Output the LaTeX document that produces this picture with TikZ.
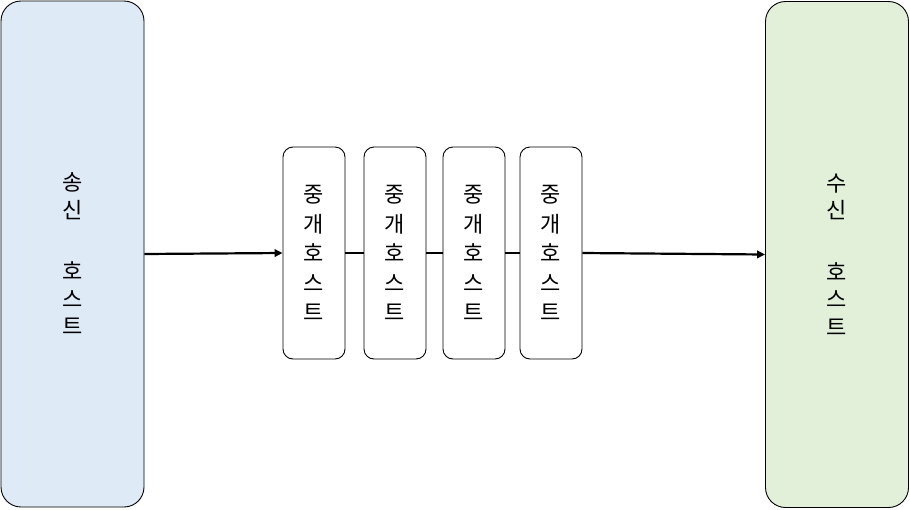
\documentclass[tikz,border=0pt]{standalone}
\usepackage{fontspec}
\newfontfamily\kr{Noto Sans CJK KR}
\usetikzlibrary{arrows.meta}
\definecolor{sendfill}{HTML}{DEEAF6}
\definecolor{recvfill}{HTML}{E2EFD9}
\tikzset{
  x=1pt,y=-1pt,
  hostbox/.style={draw=black,line width=0.9pt,rounded corners=20pt,inner sep=0pt,
    minimum width=143pt,minimum height=506pt,align=center,
    font=\kr\fontsize{22}{27.5}\selectfont},
  relaybox/.style={draw=black,fill=white,line width=0.9pt,rounded corners=10pt,inner sep=0pt,
    minimum width=62pt,minimum height=212pt,align=center,
    font=\kr\fontsize{22}{29.5}\selectfont},
  arr/.style={line width=2.2pt,-{Triangle[length=8pt,width=7.5pt]}},
  link/.style={line width=2.8pt}
}
\begin{document}
\begin{tikzpicture}
\useasboundingbox (0,0) rectangle (910,509);
\node[hostbox,fill=sendfill] (L) at (72.5,254) {송\\신\\[34pt]호\\스\\트};
\node[hostbox,fill=recvfill] (R) at (837,254.5) {수\\신\\[34pt]호\\스\\트};
\node[relaybox] (m1) at (314,253) {중\\개\\호\\스\\트};
\node[relaybox] (m2) at (395,253) {중\\개\\호\\스\\트};
\node[relaybox] (m3) at (474,253) {중\\개\\호\\스\\트};
\node[relaybox] (m4) at (551,253) {중\\개\\호\\스\\트};
\draw[arr] (L.east) -- (m1.west);
\draw[link] (m1.east) -- (m2.west);
\draw[link] (m2.east) -- (m3.west);
\draw[link] (m3.east) -- (m4.west);
\draw[arr] (m4.east) -- (R.west);
\end{tikzpicture}
\end{document}
